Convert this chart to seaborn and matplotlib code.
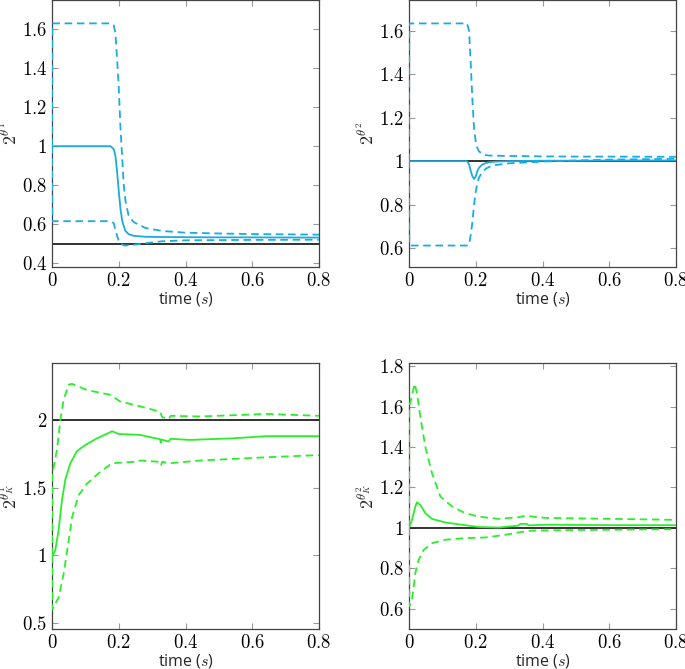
import matplotlib
matplotlib.use("Agg")
import matplotlib.pyplot as plt
import numpy as np
import pandas as pd
import seaborn as sns
from matplotlib.ticker import FuncFormatter, MultipleLocator

# ---- data ----
# theta^1 (blue)
t_th1 = [0, 0.001, 0.175, 0.185, 0.19, 0.195, 0.20, 0.205, 0.21, 0.215, 0.22, 0.23, 0.245, 0.28, 0.33, 0.4, 0.5, 0.6, 0.8]
th1_mean = [1.0, 1.0, 1.0, 0.985, 0.95, 0.87, 0.77, 0.68, 0.62, 0.59, 0.565, 0.548, 0.54, 0.535, 0.534, 0.533, 0.532, 0.532, 0.531]
th1_up = [1.0, 1.63, 1.63, 1.62, 1.58, 1.45, 1.3, 1.1, 0.95, 0.8, 0.72, 0.64, 0.61, 0.58, 0.565, 0.556, 0.552, 0.549, 0.546]
th1_lo = [1.0, 0.615, 0.615, 0.605, 0.57, 0.54, 0.515, 0.50, 0.495, 0.492, 0.49, 0.492, 0.494, 0.502, 0.512, 0.517, 0.518, 0.519, 0.52]
th1_ref = 0.5

# theta^2 (blue)
t_th2 = [0, 0.001, 0.174, 0.18, 0.185, 0.19, 0.195, 0.20, 0.205, 0.21, 0.22, 0.23, 0.24, 0.26, 0.3, 0.35, 0.4, 0.5, 0.6, 0.8]
th2_mean = [1.0, 1.0, 1.0, 0.985, 0.955, 0.93, 0.918, 0.93, 0.955, 0.97, 0.985, 0.991, 0.995, 0.998, 1.0, 1.001, 1.002, 1.002, 1.003, 1.003]
th2_up = [1.0, 1.635, 1.635, 1.6, 1.45, 1.28, 1.15, 1.09, 1.06, 1.045, 1.033, 1.028, 1.026, 1.025, 1.024, 1.023, 1.022, 1.021, 1.021, 1.02]
th2_lo = [1.0, 0.611, 0.611, 0.615, 0.66, 0.72, 0.80, 0.86, 0.90, 0.925, 0.95, 0.965, 0.973, 0.982, 0.99, 0.994, 0.998, 1.003, 1.007, 1.011]
th2_ref = 1.0

# theta_K^1 (green)
t_k1 = [0, 0.005, 0.01, 0.02, 0.03, 0.04, 0.055, 0.075, 0.1, 0.135, 0.18, 0.2, 0.264, 0.324, 0.326, 0.328, 0.349, 0.356, 0.413, 0.543, 0.643, 0.8]
k1_mean = [1.0, 1.01, 1.04, 1.19, 1.41, 1.56, 1.68, 1.77, 1.815, 1.864, 1.916, 1.896, 1.889, 1.857, 1.83, 1.855, 1.84, 1.86, 1.852, 1.864, 1.88, 1.88]
t_k1b = [0, 0.001, 0.015, 0.025, 0.035, 0.05, 0.06, 0.105, 0.175, 0.204, 0.264, 0.324, 0.33, 0.35, 0.356, 0.443, 0.643, 0.8]
k1_up = [1.0, 1.6, 1.78, 2.0, 2.15, 2.26, 2.266, 2.22, 2.185, 2.136, 2.1, 2.06, 2.02, 2.007, 2.03, 2.025, 2.044, 2.03]
t_k1c = [0, 0.001, 0.005, 0.02, 0.035, 0.05, 0.06, 0.08, 0.105, 0.145, 0.18, 0.244, 0.264, 0.324, 0.327, 0.33, 0.354, 0.443, 0.643, 0.8]
k1_lo = [1.0, 0.6, 0.62, 0.69, 0.865, 1.11, 1.28, 1.445, 1.53, 1.617, 1.68, 1.69, 1.70, 1.69, 1.667, 1.69, 1.68, 1.70, 1.724, 1.74]
k1_ref = 2.0

# theta_K^2 (green)
t_k2 = [0, 0.009, 0.019, 0.024, 0.034, 0.049, 0.069, 0.109, 0.159, 0.208, 0.268, 0.328, 0.333, 0.353, 0.358, 0.408, 0.608, 0.8]
k2_mean = [1.0, 1.04, 1.106, 1.127, 1.114, 1.073, 1.045, 1.027, 1.016, 1.005, 1.002, 1.012, 1.02, 1.02, 1.013, 1.016, 1.014, 1.014]
t_k2b = [0, 0.001, 0.009, 0.017, 0.024, 0.034, 0.049, 0.069, 0.094, 0.129, 0.169, 0.208, 0.268, 0.328, 0.348, 0.408, 0.608, 0.8]
k2_up = [1.0, 1.6, 1.656, 1.713, 1.664, 1.55, 1.40, 1.27, 1.155, 1.106, 1.073, 1.056, 1.045, 1.053, 1.06, 1.05, 1.045, 1.04]
t_k2c = [0, 0.001, 0.009, 0.019, 0.029, 0.044, 0.069, 0.109, 0.169, 0.228, 0.288, 0.328, 0.368, 0.508, 0.8]
k2_lo = [1.0, 0.613, 0.646, 0.777, 0.843, 0.892, 0.925, 0.942, 0.95, 0.953, 0.966, 0.978, 0.987, 0.99, 0.994]
k2_ref = 1.0

ylabels = [r"$2^{\theta^1}$", r"$2^{\theta^2}$", r"$2^{\theta^1_K}$", r"$2^{\theta^2_K}$"]

sns.set_style("ticks")
plt.rcParams["mathtext.fontset"] = "cm"
plt.rcParams["font.family"] = ["Open Sans", "DejaVu Sans"]

blue = "#1BABE3"
green = "#2BEE2B"
lw = 1.3

fig = plt.figure(figsize=(6.85, 6.69), dpi=100)
W, H = 685, 669
boxes = [(52, 0, 319, 267), (409, 0, 676, 267), (52, 363, 319, 629), (409, 363, 676, 629)]
axes = [fig.add_axes([l / W, 1 - b / H, (r - l) / W, (b - t) / H]) for (l, t, r, b) in boxes]

panels = [
    (t_th1, th1_mean, t_th1, th1_up, t_th1, th1_lo, th1_ref, blue, (0.38, 1.75), 0.2),
    (t_th2, th2_mean, t_th2, th2_up, t_th2, th2_lo, th2_ref, blue, (0.512, 1.743), 0.2),
    (t_k1, k1_mean, t_k1b, k1_up, t_k1c, k1_lo, k1_ref, green, (0.456, 2.42), 0.5),
    (t_k2, k2_mean, t_k2b, k2_up, t_k2c, k2_lo, k2_ref, green, (0.501, 1.815), 0.2),
]

fmt = FuncFormatter(lambda v, p: f"${v:g}$")

for ax, (tm, ym, tu, yu, tl, yl, ref, col, ylim, ystep), lab in zip(axes, panels, ylabels):
    ax.axhline(ref, color="#222222", lw=lw, zorder=1)
    sns.lineplot(x=tm, y=ym, ax=ax, color=col, lw=lw, sort=False, zorder=3)
    sns.lineplot(x=tu, y=yu, ax=ax, color=col, lw=lw, sort=False, zorder=3)
    sns.lineplot(x=tl, y=yl, ax=ax, color=col, lw=lw, sort=False, zorder=3)
    for line in ax.get_lines()[2:]:
        line.set_dashes((4.2, 2.6))
    ax.set_xlim(0, 0.8)
    ax.set_ylim(*ylim)
    ax.xaxis.set_major_locator(MultipleLocator(0.2))
    ax.yaxis.set_major_locator(MultipleLocator(ystep))
    ax.xaxis.set_major_formatter(fmt)
    ax.yaxis.set_major_formatter(fmt)
    ax.tick_params(direction="in", length=4, width=0.8, color="#999999",
                   top=True, right=True, labelsize=13.5, pad=3.5, labelcolor="black")
    for s in ax.spines.values():
        s.set_color("#444444")
        s.set_linewidth(0.9)
    ax.set_xlabel(r"time ($s$)", fontsize=11.5, labelpad=0)
    ax.set_ylabel(lab, fontsize=13)
    ax.yaxis.set_label_coords(-0.118, 0.5)

fig.savefig("out.png", dpi=100)
